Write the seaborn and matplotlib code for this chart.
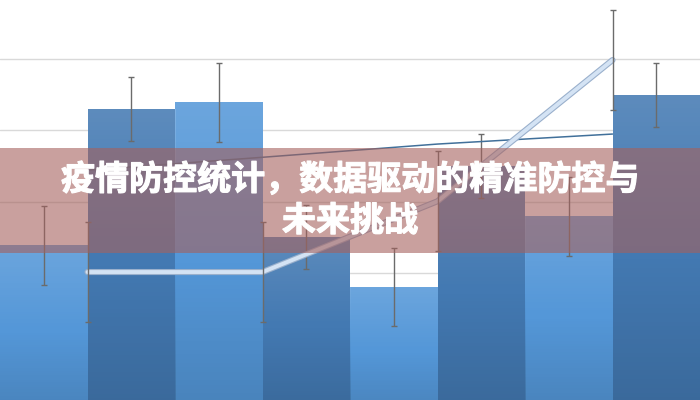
import matplotlib
matplotlib.use("Agg")
import matplotlib.pyplot as plt
import matplotlib.patheffects as pe
from matplotlib.patches import Rectangle
import seaborn as sns
import pandas as pd
import numpy as np

# ---- data ----
categories = ["一季度", "二季度", "三季度", "四季度"]
groups = ["A组", "B组"]
values_a = [47.8, 87.8, 36.1, 55.9]
values_b = [85.9, 50.1, 69.9, 89.8]
err_a = [11.0, 11.0, 11.0, 11.0]
err_b = [9.0, 9.0, 9.0, 9.0]
trend_light = [40.3, 40.3, 60.1, 99.6]
trend_light_err = [14.0, 14.0, 14.0, 14.0]
trend_dark = [68.8, 72.4, 76.1, 78.9]
title = "疫情防控统计，数据驱动的精准防控与\n未来挑战"

sns.set_theme(style="white")
plt.rcParams["font.family"] = ["Noto Sans CJK SC", "DejaVu Sans"]

df = pd.DataFrame({
    "cat": categories * 2,
    "grp": [groups[0]] * 4 + [groups[1]] * 4,
    "val": values_a + values_b,
})

fig = plt.figure(figsize=(7, 4), dpi=100)
ax = fig.add_axes([0, 0, 1, 1])

sns.barplot(data=df, x="cat", y="val", hue="grp", order=categories,
            hue_order=groups, palette=["#5497D8", "#4379B2"], saturation=1,
            width=1, gap=0, errorbar=None, legend=False, linewidth=0,
            ax=ax, zorder=2)

ax.set_xlim(-0.5, 3.5)
ax.set_ylim(4.5, 116.4)
ax.set_yticks([20, 40, 60, 80, 100])
ax.yaxis.grid(True, color="#D9D9D9", linewidth=1)
ax.xaxis.grid(False)
ax.set_axisbelow(True)
ax.tick_params(left=False, bottom=False, labelleft=False, labelbottom=False)
for s in ax.spines.values():
    s.set_visible(False)
ax.set_xlabel("")
ax.set_ylabel("")

# soft vertical shading on each bar (lighter top, darker bottom)
grad = np.zeros((64, 2, 4))
t = np.linspace(0, 1, 64)[:, None]
grad[..., :3] = np.where(t < 0.5, 1.0, 0.0)[..., None]
grad[..., 3] = np.abs(0.5 - t) * 0.28
for cont in ax.containers:
    for b in cont:
        x0, w, h = b.get_x(), b.get_width(), b.get_height()
        im = ax.imshow(grad, extent=(x0, x0 + w, 0, h), aspect="auto",
                       origin="upper", zorder=2.5, interpolation="bilinear")
        im.set_clip_path(b)
ax.set_xlim(-0.5, 3.5)
ax.set_ylim(4.5, 116.4)

# error bars on bars
for cont, errs in zip(ax.containers, [err_a, err_b]):
    xs = [b.get_x() + b.get_width() / 2 for b in cont]
    ys = [b.get_height() for b in cont]
    ax.errorbar(xs, ys, yerr=errs, fmt="none", ecolor="#6B6B6B",
                elinewidth=1, capsize=2, capthick=1, zorder=4)

pos = list(range(len(categories)))
# thin dark trend line
sns.lineplot(x=pos, y=trend_dark, color="#41709A", linewidth=1.1,
             ax=ax, zorder=5)
# thick light trend line
sns.lineplot(x=pos, y=trend_light, color="#D4E3F4", linewidth=2.8, ax=ax,
             zorder=6,
             path_effects=[pe.Stroke(linewidth=4.4, foreground="#9AB0CC"),
                           pe.Normal()])
ax.errorbar(pos, trend_light, yerr=trend_light_err, fmt="none",
            ecolor="#6B6B6B", elinewidth=1, capsize=2, capthick=1, zorder=7)

# banner
fig.patches.append(Rectangle((0, 1 - 253 / 400), 1, 105 / 400,
                             transform=fig.transFigure,
                             facecolor="#A5615D", alpha=0.6,
                             edgecolor="none", zorder=10))
fig.text(0.5, 0.5, title, ha="center", va="center", color="white",
         fontsize=24.5, fontweight="bold", linespacing=1.22, zorder=11,
         path_effects=[pe.withStroke(linewidth=0.8, foreground="white")])

fig.savefig("out.png", dpi=100)
